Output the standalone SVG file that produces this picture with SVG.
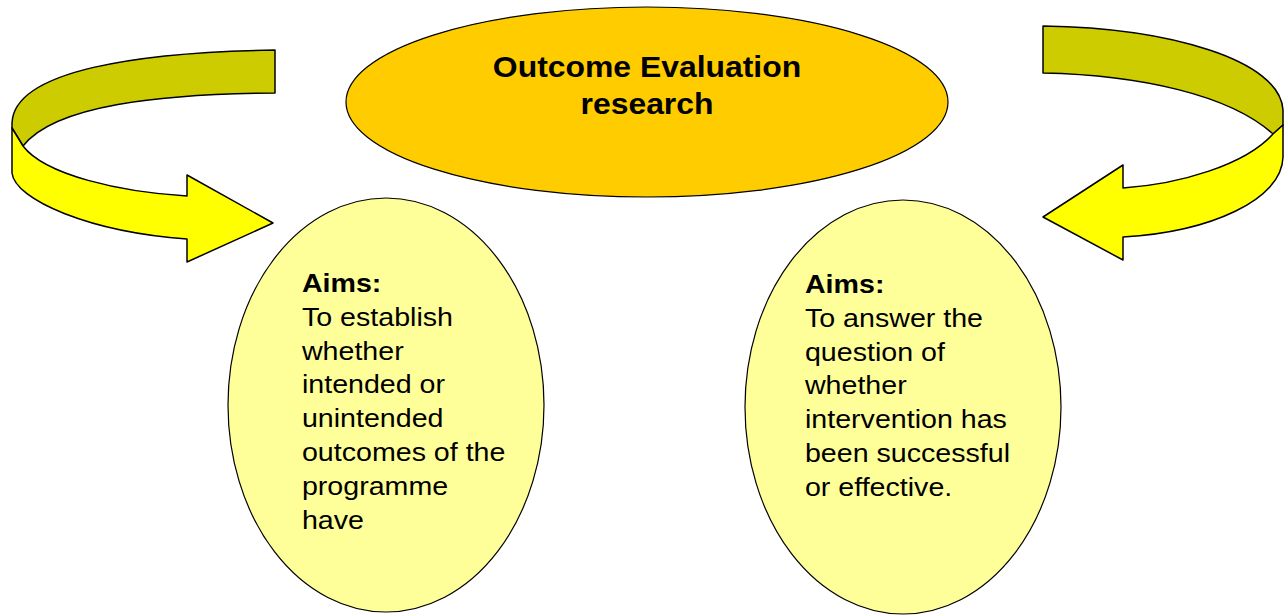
<svg xmlns="http://www.w3.org/2000/svg" width="1286" height="615" viewBox="0 0 1286 615">
<style>
.olive{fill:#CCCC00;stroke:#000;stroke-width:1.5;stroke-linejoin:round}
.yel{fill:#FFFF00;stroke:#000;stroke-width:1.5;stroke-linejoin:round}
.circ{fill:#FFFF99;stroke:#000;stroke-width:1.2}
.main{fill:#FFCC00;stroke:#000;stroke-width:1.2}
.t{font-family:"Liberation Sans",Arial,sans-serif;font-size:26px;fill:#000}
.b{font-weight:bold}
.h{font-family:"Liberation Sans",Arial,sans-serif;font-size:29px;font-weight:bold;fill:#000;text-anchor:middle}
</style>
<rect width="1286" height="615" fill="#fff"/>
<g id="connectors">
  <g id="arrow-left">
    <path class="olive" d="M275,50 L275,93 C160,94 55,105 23,146 L12,128 L12,123 C14,70 140,52 275,50 Z"/>
    <path class="yel" d="M12,128 L12,173 C15,200 90,232 187,239 L187,262 L273,223 L187,175 L187,196 C120,192 45,175 23,146 Z"/>
  </g>
  <g id="arrow-right">
    <path class="olive" d="M1043,26 L1043,73 C1140,75 1230,95 1273,134 L1283,125 L1283,110 C1280,60 1170,28 1043,26 Z"/>
    <path class="yel" d="M1283,125 L1283,157 C1282,200 1210,232 1123,237 L1123,260 L1043,217 L1123,165 L1123,188 C1180,184 1245,165 1273,134 Z"/>
  </g>
</g>
<g id="node-left">
  <ellipse class="circ" cx="386" cy="405" rx="158" ry="207"/>
  <g transform="scale(1.1,1)">
    <text class="t b" x="274.5" y="292">Aims:</text>
    <text class="t" x="274.5" y="325.8">To establish</text>
    <text class="t" x="274.5" y="359.6">whether</text>
    <text class="t" x="274.5" y="393.4">intended or</text>
    <text class="t" x="274.5" y="427.2">unintended</text>
    <text class="t" x="274.5" y="461">outcomes of the</text>
    <text class="t" x="274.5" y="494.8">programme</text>
    <text class="t" x="274.5" y="528.6">have</text>
  </g>
</g>
<g id="node-right">
  <ellipse class="circ" cx="903" cy="407" rx="158" ry="207"/>
  <g transform="scale(1.1,1)">
    <text class="t b" x="731.8" y="293">Aims:</text>
    <text class="t" x="731.8" y="326.8">To answer the</text>
    <text class="t" x="731.8" y="360.6">question of</text>
    <text class="t" x="731.8" y="394.4">whether</text>
    <text class="t" x="731.8" y="428.2">intervention has</text>
    <text class="t" x="731.8" y="462">been successful</text>
    <text class="t" x="731.8" y="495.8">or effective.</text>
  </g>
</g>
<g id="node-center">
  <ellipse class="main" cx="647" cy="102" rx="301" ry="95"/>
  <g transform="scale(1.1,1)">
    <text class="h" x="588.2" y="77">Outcome Evaluation</text>
    <text class="h" x="588.2" y="114">research</text>
  </g>
</g>
</svg>
